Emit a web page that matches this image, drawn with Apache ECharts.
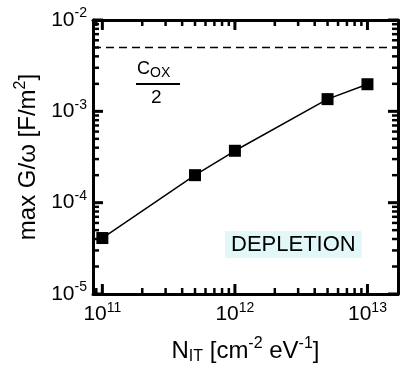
<!DOCTYPE html>
<html>
<head>
<meta charset="utf-8">
<script src="https://cdn.jsdelivr.net/npm/echarts@6/dist/echarts.min.js"></script>
<style>
  html, body { margin: 0; padding: 0; background: #fff; }
  #chart { width: 405px; height: 370px; }
</style>
</head>
<body>
<div id="chart"></div>
<script>
// data
const nIt = [1e11, 5e11, 1e12, 5e12, 1e13];
const maxGw = [4.1e-5, 2.0e-4, 3.7e-4, 1.36e-3, 1.98e-3];
const coxHalf = 5e-3;

// axis ranges and ticks
const xRange = [8.5e10, 1.7e13];
const yRange = [1e-5, 1e-2];
const xMajor = [1e11, 1e12, 1e13];
const yMajor = [1e-5, 1e-4, 1e-3, 1e-2];
const minorMult = [2, 3, 4, 5, 6, 7, 8, 9];
const xMinor = [9e10];
[1e11, 1e12].forEach(d => minorMult.forEach(m => xMinor.push(m * d)));
const yMinor = [];
[1e-5, 1e-4, 1e-3].forEach(d => minorMult.forEach(m => yMinor.push(m * d)));

const FONT = "'Liberation Sans', Arial, sans-serif";
const GRID = { left: 93, right: 7, top: 20, bottom: 75 };
const W = 405, H = 370;
const MAJOR_LEN = 10, MINOR_LEN = 6;

const powLabel = v => '{b|10}{s|' + Math.round(Math.log10(v)) + '}';

function axisBase(range, pos, labels, margin) {
  const showLabel = pos === 'bottom' || pos === 'left';
  return {
    type: 'log', position: pos,
    min: range[0], max: range[1],
    axisLine: { show: true, onZero: false, lineStyle: { color: '#000', width: 3 } },
    axisTick: { show: false },
    axisLabel: showLabel ? {
      show: true, customValues: labels, formatter: powLabel, margin: margin,
      rich: {
        b: { fontSize: 21, fontFamily: FONT, color: '#000' },
        s: { fontSize: 14, fontFamily: FONT, color: '#000', padding: [0, 0, 13, 0] }
      }
    } : { show: false },
    splitLine: { show: false }
  };
}

const xBottom = axisBase(xRange, 'bottom', xMajor, 7);
xBottom.name = '{n|N}{sub|IT}{n| [cm}{s|-2}{n| eV}{s|-1}{n|]}';
xBottom.nameLocation = 'middle';
xBottom.nameGap = 42;
xBottom.nameTextStyle = {
  rich: {
    n: { fontSize: 24, fontFamily: FONT, color: '#000' },
    sub: { fontSize: 16, fontFamily: FONT, color: '#000', padding: [12, 0, 0, 0] },
    s: { fontSize: 16, fontFamily: FONT, color: '#000', padding: [0, 0, 14, 0] }
  }
};

const yLeft = axisBase(yRange, 'left', yMajor, 6);
yLeft.name = '{n|max G/ω [F/m}{s|2}{n|]}';
yLeft.nameLocation = 'middle';
yLeft.nameGap = 50;
yLeft.nameTextStyle = {
  rich: {
    n: { fontSize: 24, fontFamily: FONT, color: '#000' },
    s: { fontSize: 16, fontFamily: FONT, color: '#000', padding: [0, 0, 14, 0] }
  }
};

// inward ticks on all four sides, drawn as short line series on the log axes;
// tick length in pixels turned into a factor along each log axis
const pxPerDecX = (W - GRID.left - GRID.right) / Math.log10(xRange[1] / xRange[0]);
const pxPerDecY = (H - GRID.top - GRID.bottom) / Math.log10(yRange[1] / yRange[0]);
const tickSeries = [];
function seg(a, b, len) {
  tickSeries.push({
    type: 'line', data: [a, b], symbol: 'none', silent: true, clip: false,
    lineStyle: { color: '#000', width: len > 8 ? 3 : 2.5 }, z: 3
  });
}
function xTick(v, len) {
  const f = Math.pow(10, len / pxPerDecY);
  seg([v, yRange[0]], [v, yRange[0] * f], len);
  seg([v, yRange[1]], [v, yRange[1] / f], len);
}
function yTick(v, len) {
  const f = Math.pow(10, len / pxPerDecX);
  seg([xRange[0], v], [xRange[0] * f, v], len);
  seg([xRange[1], v], [xRange[1] / f, v], len);
}
xMajor.forEach(v => xTick(v, MAJOR_LEN));
xMinor.forEach(v => xTick(v, MINOR_LEN));
yMajor.forEach(v => yTick(v, MAJOR_LEN));
yMinor.forEach(v => yTick(v, MINOR_LEN));

const chart = echarts.init(document.getElementById('chart'));

chart.setOption({
  animation: false,
  grid: GRID,
  xAxis: [xBottom, axisBase(xRange, 'top', xMajor, 7)],
  yAxis: [yLeft, axisBase(yRange, 'right', yMajor, 6)],
  series: tickSeries.concat([
    {
      // Cox/2 level
      type: 'line',
      data: [[xRange[0], coxHalf], [xRange[1], coxHalf]],
      symbol: 'none',
      lineStyle: { color: '#000', width: 1.5, type: [8, 5] }
    },
    {
      type: 'line',
      data: nIt.map((x, i) => [x, maxGw[i]]),
      symbol: 'rect', symbolSize: 12,
      itemStyle: { color: '#000' },
      lineStyle: { color: '#000', width: 1.5 },
      z: 4
    }
  ]),
  graphic: [
    {
      type: 'text', left: 137, top: 60,
      style: {
        text: '{c|C}{sub|OX}',
        rich: {
          c: { fontSize: 18, fontFamily: FONT, fill: '#000' },
          sub: { fontSize: 14, fontFamily: FONT, fill: '#000', padding: [8, 0, 0, 0] }
        }
      }
    },
    {
      type: 'line', shape: { x1: 136, y1: 84, x2: 180, y2: 84 },
      style: { stroke: '#000', lineWidth: 2 }
    },
    {
      type: 'text', left: 151, top: 88,
      style: { text: '2', fontSize: 19, fontFamily: FONT, fill: '#000' }
    },
    {
      type: 'text', left: 225, top: 231,
      style: {
        text: 'DEPLETION', fontSize: 22, fontFamily: FONT, fill: '#000',
        backgroundColor: '#e2f7f7', padding: [3, 6, 2, 6]
      }
    }
  ]
});
</script>
</body>
</html>
